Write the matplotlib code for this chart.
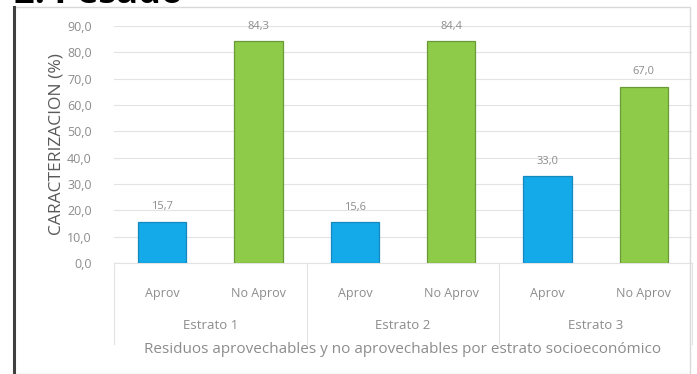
import matplotlib

matplotlib.use("Agg")

import matplotlib.pyplot as plt
from matplotlib.lines import Line2D
from matplotlib.patches import Rectangle
import numpy as np

# data
categories = ["Aprov", "No Aprov", "Aprov", "No Aprov", "Aprov", "No Aprov"]
groups = ["Estrato 1", "Estrato 2", "Estrato 3"]
values = [15.7, 84.3, 15.6, 84.4, 33.0, 67.0]
y_ticks = [0, 10, 20, 30, 40, 50, 60, 70, 80, 90]

BLUE = "#14A9E8"
GREEN = "#8DCB48"
TEXT_GRAY = "#8C8C8C"


def fmt(v: float) -> str:
    return f"{v:.1f}".replace(".", ",")


def main() -> None:
    plt.rcParams["font.family"] = ["Open Sans", "DejaVu Sans"]

    fig = plt.figure(figsize=(6.97, 3.74), dpi=100)
    W, H = 697, 374

    # outer frame of the chart area
    fig.patches.append(
        Rectangle(
            (14 / W, 0), 676 / W, 367 / H,
            transform=fig.transFigure, fill=False,
            edgecolor="#D9D9D9", linewidth=1.0,
        )
    )
    fig.lines.append(
        Line2D([14 / W, 14 / W], [0, 367 / H],
               transform=fig.transFigure, color="#404040", linewidth=2.2)
    )
    # heading of the page, mostly cut off at the top like in the source
    fig.text(0.02, 0.992, "2. Pesado", fontsize=26, fontweight="bold",
             color="black", va="baseline", ha="left")

    ax = fig.add_axes([114 / W, (H - 263) / H, 578 / W, 237 / H])

    x = np.arange(len(categories))
    colors = [BLUE if i % 2 == 0 else GREEN for i in range(len(categories))]
    edges = ["#1588BF" if i % 2 == 0 else "#6A9A38" for i in range(len(categories))]
    bars = ax.bar(x, values, width=0.5, color=colors, edgecolor=edges,
                  linewidth=0.9, zorder=3)

    for bar, v in zip(bars, values):
        ax.text(bar.get_x() + bar.get_width() / 2, v + 3.5, fmt(v),
                ha="center", va="bottom", fontsize=8, color=TEXT_GRAY)

    ax.set_xlim(-0.5, len(categories) - 0.5)
    ax.set_ylim(0, 90)
    ax.set_yticks(y_ticks)
    ax.set_yticklabels([fmt(t) for t in y_ticks])
    ax.yaxis.grid(True, color="#E3E3E3", linewidth=0.8, zorder=0)
    ax.tick_params(axis="y", length=0, labelsize=9, labelcolor=TEXT_GRAY, pad=16)
    ax.set_xticks(x)
    ax.set_xticklabels([])
    ax.tick_params(axis="x", length=0)
    for side in ["top", "right", "left"]:
        ax.spines[side].set_visible(False)
    ax.spines["bottom"].set_color("#E3E3E3")

    ax.set_ylabel("CARACTERIZACION (%)", fontsize=12.5, color="#595959",
                  labelpad=2)

    # category labels, group labels and separators below the axis
    trans = ax.get_xaxis_transform()
    for xi, c in zip(x, categories):
        ax.text(xi, -0.127, c, transform=trans, ha="center", va="center",
                fontsize=9, color=TEXT_GRAY)
    for i, g in enumerate(groups):
        ax.text(2 * i + 0.5, -0.262, g, transform=trans, ha="center",
                va="center", fontsize=9.5, color=TEXT_GRAY)
    for b in [-0.5, 1.5, 3.5, 5.5]:
        ax.add_line(Line2D([b, b], [0, -0.34], transform=trans,
                           color="#E3E3E3", linewidth=0.8, clip_on=False))

    ax.text(0.5, -0.367,
            "Residuos aprovechables y no aprovechables por estrato socioeconómico",
            transform=ax.transAxes, ha="center", va="center", fontsize=11,
            color=TEXT_GRAY)

    fig.savefig("out.png", dpi=100)
    plt.close(fig)


if __name__ == "__main__":
    main()
